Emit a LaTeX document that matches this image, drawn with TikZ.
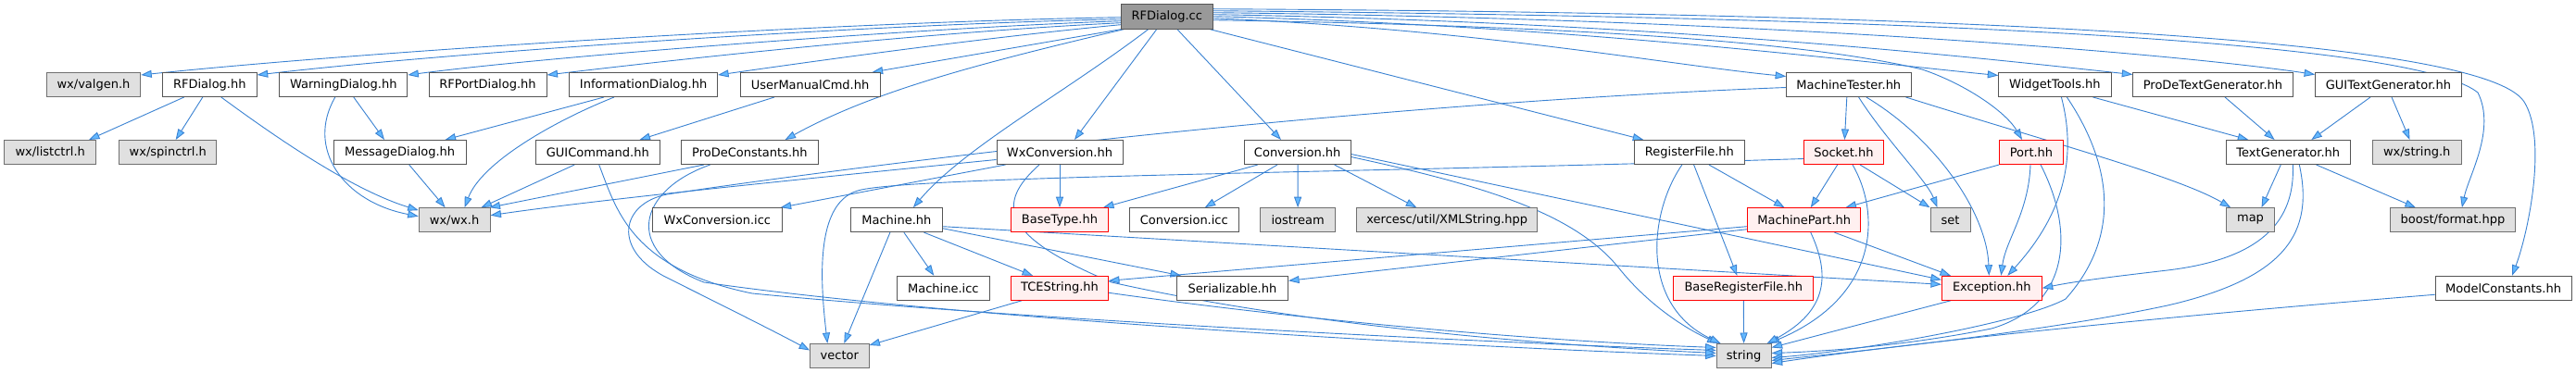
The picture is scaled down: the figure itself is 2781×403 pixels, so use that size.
\documentclass[tikz,border=0pt]{standalone}
\usepackage{fontspec}
\newfontfamily\djv{DejaVu Sans}
\usetikzlibrary{arrows.meta,calc}
\definecolor{edgecol}{HTML}{3A82D2}
\definecolor{arrowcol}{HTML}{63B8FF}
\definecolor{ndborder}{HTML}{555555}
\definecolor{sysfill}{HTML}{E0E0E0}
\definecolor{sysborder}{HTML}{707070}
\definecolor{truncfill}{HTML}{FFF0F0}
\definecolor{rootfill}{HTML}{999999}
\pgfdeclarelayer{bg}
\pgfsetlayers{bg,main}
\tikzset{
  nd/.style={draw=ndborder, fill=white, line width=1pt, minimum height=26pt, inner sep=0pt, font={\djv\fontsize{13}{15}\selectfont}, text=black},
  sys/.style={nd, fill=sysfill, draw=sysborder},
  trunc/.style={nd, fill=truncfill, draw=red},
  rootbox/.style={nd, fill=rootfill, draw=ndborder},
  conn/.style={draw=edgecol, line width=0.9pt, -{Triangle[length=11.5pt,width=8pt,fill=arrowcol]}}
}
\begin{document}
\begin{tikzpicture}[x=1pt,y=-1pt]
\useasboundingbox (0,0) rectangle (2781,403);
% nodes
\node[rootbox, minimum width=99pt, minimum height=26.7pt] (root) at (1259.8,17.7) {RFDialog.cc};
% row 1
\node[sys, minimum width=101.4pt] (valgen) at (101,91.5) {wx/valgen.h};
\node[nd, minimum width=101.8pt] (rfdhh) at (226.3,91.5) {RFDialog.hh};
\node[nd, minimum width=138pt] (warn) at (370.8,91.5) {WarningDialog.hh};
\node[nd, minimum width=127pt] (rfport) at (526.5,91.5) {RFPortDialog.hh};
\node[nd, minimum width=160pt] (info) at (694.6,91.5) {InformationDialog.hh};
\node[nd, minimum width=151pt] (userman) at (874.6,91.5) {UserManualCmd.hh};
\node[nd, minimum width=134.4pt] (mtester) at (1995.8,91.5) {MachineTester.hh};
\node[nd, minimum width=121.2pt] (widget) at (2218.4,91.5) {WidgetTools.hh};
\node[nd, minimum width=172.4pt] (prodetg) at (2389,91.5) {ProDeTextGenerator.hh};
\node[nd, minimum width=157.6pt] (guitg) at (2578.4,91.5) {GUITextGenerator.hh};
% row 2
\node[sys, minimum width=99.5pt] (listctrl) at (54.2,164.5) {wx/listctrl.h};
\node[sys, minimum width=105.3pt] (spinctrl) at (181.3,164.5) {wx/spinctrl.h};
\node[nd, minimum width=142.8pt] (msgdlg) at (431.7,164.5) {MessageDialog.hh};
\node[nd, minimum width=133.4pt] (guicmd) at (645.3,164.5) {GUICommand.hh};
\node[nd, minimum width=147.3pt] (prodeconst) at (809.4,164.5) {ProDeConstants.hh};
\node[nd, minimum width=136pt] (wxconv) at (1144,164.5) {WxConversion.hh};
\node[nd, minimum width=114.7pt] (conv) at (1400.7,164.5) {Conversion.hh};
\node[nd, minimum width=118.3pt] (regfile) at (1823.9,164.5) {RegisterFile.hh};
\node[trunc, minimum width=85.2pt] (socket) at (1990.4,164.5) {Socket.hh};
\node[trunc, minimum width=68.7pt] (port) at (2193,164.5) {Port.hh};
\node[nd, minimum width=133.4pt] (textgen) at (2470.3,164.5) {TextGenerator.hh};
\node[sys, minimum width=96pt] (wxstring) at (2609.2,164.5) {wx/string.h};
% row 3
\node[sys, minimum width=76.8pt] (wxwx) at (490.6,237.7) {wx/wx.h};
\node[nd, minimum width=139.7pt] (wxconvicc) at (774.3,237.7) {WxConversion.icc};
\node[nd, minimum width=98.3pt] (machine) at (967.9,237.7) {Machine.hh};
\node[trunc, minimum width=104.9pt] (basetype) at (1144,237.7) {BaseType.hh};
\node[nd, minimum width=117.4pt] (convicc) at (1278.3,237.7) {Conversion.icc};
\node[sys, minimum width=80.8pt] (iostream) at (1401.1,237.7) {iostream};
\node[sys, minimum width=195.1pt] (xerces) at (1562.3,237.7) {xercesc/util/XMLString.hpp};
\node[trunc, minimum width=122.3pt] (machpart) at (1947.8,237.7) {MachinePart.hh};
\node[sys, minimum width=43pt] (set) at (2105.5,237.7) {set};
\node[sys, minimum width=51.7pt] (map) at (2429.5,237.7) {map};
\node[sys, minimum width=135.1pt] (boost) at (2647.9,237.7) {boost/format.hpp};
% row 4
\node[nd, minimum width=100pt] (machicc) at (1018.3,311.3) {Machine.icc};
\node[trunc, minimum width=104.9pt] (tcestr) at (1144,311.3) {TCEString.hh};
\node[nd, minimum width=120.1pt] (serial) at (1330.5,311.3) {Serializable.hh};
\node[trunc, minimum width=151.3pt] (baseregfile) at (1882.3,311.3) {BaseRegisterFile.hh};
\node[trunc, minimum width=107.8pt] (exception) at (2150.3,311.3) {Exception.hh};
\node[nd, minimum width=147.2pt] (modelconst) at (2702.6,311.3) {ModelConstants.hh};
% row 5
\node[sys, minimum width=63.4pt] (vector) at (906.3,384.5) {vector};
\node[sys, minimum width=59pt] (string) at (1882.6,384.5) {string};

\begin{pgfonlayer}{bg}
\fill[white] (0,0) rectangle (2781,403);
% root edges
\draw[conn] ($(root.west)+(0,1)$) .. controls (900,24) and (400,55) .. ($(valgen.north east)+(0,3)$);
\draw[conn] ($(root.west)+(0,3)$) .. controls (950,26) and (500,55) .. ($(rfdhh.north east)+(0,3)$);
\draw[conn] ($(root.west)+(0,5)$) .. controls (1000,30) and (600,60) .. ($(warn.north east)+(0,3)$);
\draw[conn] ($(root.west)+(0,7)$) .. controls (1000,35) and (750,62) .. ($(rfport.north east)+(0,3)$);
\draw[conn] ($(root.west)+(0,9)$) .. controls (1050,42) and (880,66) .. ($(info.north east)+(0,3)$);
\draw[conn] ($(root.south west)+(1,0)$) -- ($(userman.north east)+(-9,0)$);
\draw[conn] ($(root.south west)+(4,0)$) .. controls (1050,70) and (940,100) .. ($(prodeconst.north east)+(-36,0)$);
\draw[conn] ($(root.south)+(-11,0)$) -- ($(wxconv.north)+(16,0)$);
\draw[conn] ($(root.south)+(-20,0)$) .. controls (1150,100) and (1040,160) .. ($(machine.north)+(18,0)$);
\draw[conn] ($(root.south)+(11,0)$) -- ($(conv.north)+(-17.7,0)$);
\draw[conn] ($(root.south east)+(-4,0)$) -- ($(regfile.north west)+(10,0)$);
\draw[conn] ($(root.east)+(0,2)$) .. controls (1600,32) and (1800,70) .. ($(mtester.west)+(0,-9)$);
\draw[conn] ($(root.east)+(0,0)$) .. controls (1700,28) and (2000,66) .. ($(widget.west)+(0,-10)$);
\draw[conn] ($(root.east)+(0,-2)$) .. controls (1800,24) and (2150,64) .. ($(prodetg.west)+(0,-11)$);
\draw[conn] ($(root.east)+(0,-4)$) .. controls (1900,20) and (2350,58) .. ($(guitg.west)+(0,-11)$);
\draw[conn] ($(root.east)+(0,4)$) .. controls (1700,28) and (1950,45) .. (2075,75) .. controls (2120,90) and (2165,120) .. ($(port.north)+(-10,0)$);
\draw[conn] ($(root.east)+(0,-6)$) .. controls (2000,18) and (2600,40) .. (2675,100) .. controls (2695,140) and (2665,190) .. ($(boost.north)+(10,0)$);
\draw[conn] ($(root.east)+(0,-8)$) .. controls (2100,14) and (2680,40) .. (2725,110) .. controls (2750,150) and (2730,250) .. ($(modelconst.north)+(9.4,0)$);
% RFDialog.hh
\draw[conn] ($(rfdhh.south)+(-27.6,0)$) -- ($(listctrl.north)+(41.8,0)$);
\draw[conn] ($(rfdhh.south)+(-7.5,0)$) -- ($(spinctrl.north)+(8.4,0)$);
\draw[conn] ($(rfdhh.south)+(12.5,0)$) .. controls (300,150) and (380,205) .. ($(wxwx.north west)+(0,3)$);
% WarningDialog.hh
\draw[conn] ($(warn.south)+(11,0)$) -- ($(msgdlg.north)+(-16.7,0)$);
\draw[conn] ($(warn.south)+(-9,0)$) .. controls (330,160) and (370,218) .. ($(wxwx.west)+(0,-4)$);
% InformationDialog.hh
\draw[conn] ($(info.south)+(-42.6,0)$) -- ($(msgdlg.north east)+(-23,0)$);
\draw[conn] ($(info.south)+(-31.6,0)$) .. controls (600,130) and (520,175) .. ($(wxwx.north)+(11,0)$);
% MessageDialog, UserManualCmd, GUICommand, ProDeConstants
\draw[conn] ($(msgdlg.south)+(10,0)$) -- ($(wxwx.north)+(-10,0)$);
\draw[conn] ($(userman.south)+(-38.6,0)$) -- ($(guicmd.north east)+(-22,0)$);
\draw[conn] ($(guicmd.south)+(-25,0)$) -- ($(wxwx.north east)+(-10,0)$);
\draw[conn] ($(guicmd.south)+(1.4,0)$) .. controls (665,225) and (680,290) .. (812,317) .. controls (1100,345) and (1600,370) .. ($(string.west)+(0,-6)$);
\draw[conn] ($(prodeconst.south)+(-49.4,0)$) -- ($(wxwx.north east)+(-1,0)$);
\draw[conn] ($(prodeconst.south)+(-42.7,0)$) .. controls (690,205) and (670,270) .. (760,305) .. controls (1000,340) and (1500,372) .. ($(string.west)+(0,0)$);
% WxConversion.hh
\draw[conn] ($(wxconv.west)+(0,8)$) .. controls (900,190) and (650,215) .. ($(wxwx.east)+(0,-5)$);
\draw[conn] ($(wxconv.south west)+(10,0)$) -- ($(wxconvicc.north east)+(-2,0)$);
\draw[conn] (wxconv.south) -- (basetype.north);
\draw[conn] ($(wxconv.south)+(-22,0)$) .. controls (1075,220) and (1080,255) .. (1200,305) .. controls (1400,350) and (1650,372) .. ($(string.west)+(0,-3)$);
% Conversion.hh
\draw[conn] ($(conv.south west)+(15,0)$) -- ($(basetype.north east)+(-6,0)$);
\draw[conn] ($(conv.south)+(-21.7,0)$) -- ($(convicc.north)+(22.4,0)$);
\draw[conn] ($(conv.south)+(0.4,0)$) -- (iostream.north);
\draw[conn] ($(conv.south east)+(-18,0)$) -- ($(xerces.north)+(-33,0)$);
\draw[conn] ($(conv.east)+(0,5)$) .. controls (1600,200) and (1700,230) .. (1748,290) .. controls (1780,330) and (1820,355) .. ($(string.north west)+(2,0)$);
\draw[conn] ($(conv.east)+(0,2)$) -- ($(exception.west)+(0,-9)$);
% Machine.hh
\draw[conn] ($(machine.south)+(-7,0)$) -- ($(vector.north)+(5,0)$);
\draw[conn] ($(machine.south)+(8,0)$) -- ($(machicc.north)+(-10,0)$);
\draw[conn] ($(machine.south east)+(-20,0)$) -- ($(tcestr.north)+(-29,0)$);
\draw[conn] ($(machine.east)+(0,9)$) -- ($(serial.north west)+(5,0)$);
\draw[conn] ($(machine.east)+(0,7)$) -- ($(exception.west)+(0,-4)$);
% TCEString.hh
\draw[conn] ($(tcestr.south west)+(12,0)$) -- ($(vector.north east)+(0,2)$);
\draw[conn] ($(tcestr.east)+(0,5)$) .. controls (1400,345) and (1650,368) .. ($(string.west)+(0,-9)$);
% RegisterFile.hh
\draw[conn] ($(regfile.south)+(21,0)$) -- ($(machpart.north)+(-21.3,0)$);
\draw[conn] ($(regfile.south)+(4.7,0)$) -- ($(baseregfile.north)+(-7,0)$);
\draw[conn] ($(regfile.south)+(-8,0)$) .. controls (1780,230) and (1770,330) .. ($(string.north west)+(5,0)$);
% Socket.hh
\draw[conn] ($(socket.south)+(-6.7,0)$) -- ($(machpart.north)+(7,0)$);
\draw[conn] ($(socket.south)+(17.6,0)$) -- (set.north west);
\draw[conn] ($(socket.south)+(9.6,0)$) .. controls (2030,230) and (2030,320) .. ($(string.north east)+(-3,0)$);
\draw[conn] ($(socket.west)+(0,7)$) .. controls (1500,186) and (1000,190) .. (930,205) .. controls (880,215) and (885,300) .. ($(vector.north)+(-13,0)$);
% Port.hh
\draw[conn] (port.south west) -- ($(machpart.north east)+(-17,0)$);
\draw[conn] ($(port.south)+(-1,0)$) .. controls (2190,230) and (2165,260) .. ($(exception.north)+(10,0)$);
\draw[conn] ($(port.south)+(10,0)$) .. controls (2240,250) and (2235,330) .. (2150,355) .. controls (2050,375) and (1960,380) .. ($(string.east)+(0,-3)$);
% WidgetTools.hh
\draw[conn] ($(widget.south east)+(-20,0)$) -- ($(textgen.north)+(-43,0)$);
\draw[conn] ($(widget.south)+(7,0)$) .. controls (2245,180) and (2220,240) .. ($(exception.north)+(17,0)$);
\draw[conn] ($(widget.south)+(13,0)$) .. controls (2275,170) and (2295,250) .. (2230,323) .. controls (2180,350) and (2000,380) .. ($(string.east)+(0,2)$);
% Text generators
\draw[conn] ($(prodetg.south)+(13,0)$) -- ($(textgen.north)+(-14.7,0)$);
\draw[conn] ($(guitg.south)+(-19.4,0)$) -- ($(textgen.north)+(25,0)$);
\draw[conn] ($(guitg.south)+(3.6,0)$) -- ($(wxstring.north)+(-7.7,0)$);
\draw[conn] ($(textgen.south)+(-8,0)$) -- ($(map.north)+(12,0)$);
\draw[conn] ($(textgen.south east)+(-37,0)$) -- ($(boost.north)+(-40,0)$);
\draw[conn] ($(textgen.south)+(5,0)$) .. controls (2478,240) and (2440,280) .. (2340,292) .. controls (2280,299) and (2240,304) .. (exception.east);
\draw[conn] ($(textgen.south)+(12,0)$) .. controls (2498,250) and (2470,300) .. (2340,330) .. controls (2200,360) and (2000,380) .. ($(string.east)+(0,5)$);
% MachineTester.hh
\draw[conn] ($(mtester.south)+(-2,0)$) -- ($(socket.north)+(1,0)$);
\draw[conn] ($(mtester.south)+(10.8,0)$) .. controls (2035,150) and (2080,195) .. ($(set.north west)+(8,0)$);
\draw[conn] ($(mtester.south)+(19,0)$) .. controls (2090,150) and (2145,230) .. ($(exception.north)+(-3,0)$);
\draw[conn] ($(mtester.south east)+(-6,0)$) .. controls (2200,150) and (2350,190) .. ($(map.north west)+(5,0)$);
\draw[conn] ($(mtester.west)+(0,3)$) .. controls (1400,115) and (850,190) .. (720,210) .. controls (670,220) and (660,270) .. (720,300) .. controls (780,330) and (840,360) .. ($(vector.west)+(0,-6)$);
% MachinePart.hh
\draw[conn] ($(machpart.west)+(0,7)$) -- ($(tcestr.east)+(0,-8)$);
\draw[conn] ($(machpart.west)+(0,10)$) -- ($(serial.east)+(0,-8)$);
\draw[conn] ($(machpart.south)+(7,0)$) .. controls (1975,295) and (1975,335) .. ($(string.north east)+(-5,0)$);
\draw[conn] ($(machpart.south east)+(-29,0)$) -- ($(exception.north west)+(10,0)$);
% others
\draw[conn] (baseregfile.south) -- (string.north);
\draw[conn] ($(exception.south west)+(10,0)$) -- ($(string.east)+(0,-9)$);
\draw[conn] ($(modelconst.west)+(0,7)$) .. controls (2300,345) and (2050,372) .. ($(string.east)+(0,8)$);
\end{pgfonlayer}
\end{tikzpicture}
\end{document}
